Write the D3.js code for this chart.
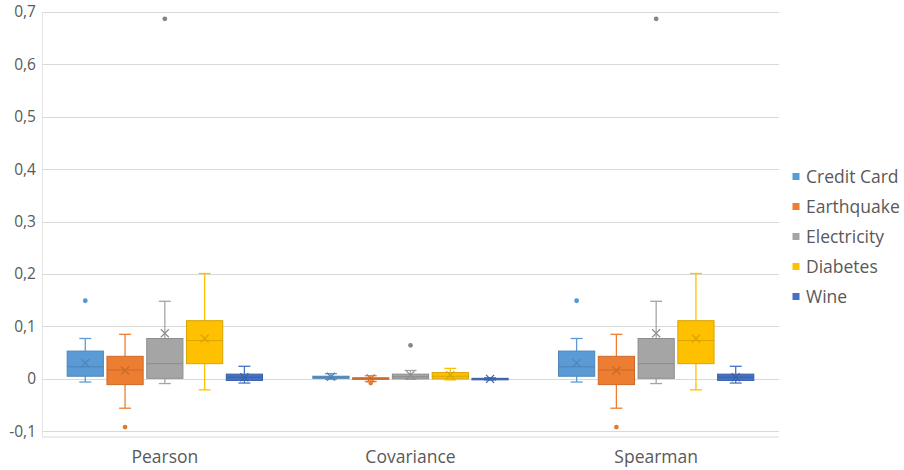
<!DOCTYPE html>
<html><head><meta charset="utf-8">
<script src="https://cdn.jsdelivr.net/npm/d3@7"></script>
<style>body{margin:0;background:#fff}svg{display:block}</style>
</head><body>
<svg id="c" width="904" height="470"></svg>
<script>
const categories = ["Pearson", "Covariance", "Spearman"];
const seriesNames = ["Credit Card", "Earthquake", "Electricity", "Diabetes", "Wine"];
const seriesColors = ["#5B9BD5", "#ED7D31", "#A5A5A5", "#FFC000", "#4472C4"];
const yTicks = [-0.1, 0, 0.1, 0.2, 0.3, 0.4, 0.5, 0.6, 0.7];
const yTickLabels = ["-0,1", "0", "0,1", "0,2", "0,3", "0,4", "0,5", "0,6", "0,7"];
// each row: [whiskerLow, q1, median, q3, whiskerHigh, mean] per category
const creditCard = [[-0.006, 0.005, 0.023, 0.053, 0.077, 0.030], [-0.001, 0.001, 0.003, 0.005, 0.010, 0.004], [-0.006, 0.005, 0.023, 0.053, 0.077, 0.030]];
const earthquake = [[-0.056, -0.011, 0.017, 0.043, 0.085, 0.016], [-0.005, -0.001, 0.001, 0.002, 0.006, 0.001], [-0.056, -0.011, 0.017, 0.043, 0.085, 0.016]];
const electricity = [[-0.009, 0.001, 0.029, 0.077, 0.148, 0.087], [-0.001, 0.000, 0.004, 0.009, 0.016, 0.007], [-0.009, 0.001, 0.029, 0.077, 0.148, 0.087]];
const diabetes = [[-0.021, 0.029, 0.073, 0.111, 0.201, 0.077], [-0.002, 0.000, 0.005, 0.012, 0.020, 0.007], [-0.021, 0.029, 0.073, 0.111, 0.201, 0.077]];
const wine = [[-0.008, -0.003, 0.003, 0.009, 0.024, 0.003], [-0.002, -0.001, 0.000, 0.001, 0.002, 0.000], [-0.008, -0.003, 0.003, 0.009, 0.024, 0.003]];
const creditCardOutliers = [[0.149], [], [0.149]];
const earthquakeOutliers = [[-0.092], [-0.008], [-0.092]];
const electricityOutliers = [[0.687], [0.064], [0.687]];
const diabetesOutliers = [[], [], []];
const wineOutliers = [[], [], []];

const stats = [creditCard, earthquake, electricity, diabetes, wine];
const outliers = [creditCardOutliers, earthquakeOutliers, electricityOutliers, diabetesOutliers, wineOutliers];

const svg = d3.select("#c");
const L = 42, R = 779, T = 12, B = 436.5;
const FONT = "'Open Sans', sans-serif";
const TXT = "#595959";

const y = d3.scaleLinear().domain([-0.11, 0.7]).range([B, T]);
const x0 = d3.scaleBand().domain(categories).range([L, R]).paddingInner(0.205).paddingOuter(0.1025);
const x1 = d3.scaleBand().domain(seriesNames).range([0, x0.bandwidth()]).paddingInner(0.09).paddingOuter(0);

// gridlines
svg.append("g").selectAll("line").data(yTicks).join("line")
  .attr("x1", L).attr("x2", R)
  .attr("y1", d => Math.round(y(d)) + 0.5).attr("y2", d => Math.round(y(d)) + 0.5)
  .attr("stroke", "#d9d9d9").attr("stroke-width", 1);
// plot frame (left + bottom)
svg.append("line").attr("x1", L + 0.5).attr("x2", L + 0.5).attr("y1", T).attr("y2", B).attr("stroke", "#e3e3e3");
svg.append("line").attr("x1", L).attr("x2", R).attr("y1", B + 0.5).attr("y2", B + 0.5).attr("stroke", "#d9d9d9");

// y labels
svg.append("g").selectAll("text").data(yTicks).join("text")
  .attr("x", 36).attr("y", d => y(d)).attr("dy", "0.35em")
  .attr("text-anchor", "end").attr("font-family", FONT).attr("font-size", 15.5).attr("fill", TXT)
  .text((d, i) => yTickLabels[i]);

// x labels
svg.append("g").selectAll("text").data(categories).join("text")
  .attr("x", d => x0(d) + x0.bandwidth() / 2).attr("y", 463)
  .attr("text-anchor", "middle").attr("font-family", FONT).attr("font-size", 17.5).attr("fill", TXT)
  .text(d => d);

// boxes
const bw = x1.bandwidth();
const capW = 12;
seriesNames.forEach((s, si) => {
  const col = seriesColors[si];
  const dark = d3.color(col).darker(0.45).formatHex();
  const g = svg.append("g");
  categories.forEach((c, ci) => {
    const [lo, q1, med, q3, hi, mean] = stats[si][ci];
    const cx = x0(c) + x1(s) + bw / 2;
    const bx = x0(c) + x1(s);
    // whiskers
    g.append("line").attr("x1", cx).attr("x2", cx).attr("y1", y(hi)).attr("y2", y(q3)).attr("stroke", col).attr("stroke-width", 1.3);
    g.append("line").attr("x1", cx).attr("x2", cx).attr("y1", y(q1)).attr("y2", y(lo)).attr("stroke", col).attr("stroke-width", 1.3);
    g.append("line").attr("x1", cx - capW / 2).attr("x2", cx + capW / 2).attr("y1", y(hi)).attr("y2", y(hi)).attr("stroke", col).attr("stroke-width", 1.3);
    g.append("line").attr("x1", cx - capW / 2).attr("x2", cx + capW / 2).attr("y1", y(lo)).attr("y2", y(lo)).attr("stroke", col).attr("stroke-width", 1.3);
    // box
    g.append("rect").attr("x", bx).attr("width", bw)
      .attr("y", y(q3)).attr("height", Math.max(1.5, y(q1) - y(q3)))
      .attr("fill", col).attr("stroke", dark).attr("stroke-width", 1);
    // median
    g.append("line").attr("x1", bx).attr("x2", bx + bw).attr("y1", y(med)).attr("y2", y(med)).attr("stroke", dark).attr("stroke-width", 1);
    // mean X
    const m = 4, my = y(mean);
    g.append("path").attr("d", `M${cx - m},${my - m}L${cx + m},${my + m}M${cx - m},${my + m}L${cx + m},${my - m}`)
      .attr("stroke", dark).attr("stroke-width", 1.2).attr("fill", "none");
    // outliers
    g.selectAll(null).data(outliers[si][ci]).join("circle")
      .attr("cx", cx).attr("cy", d => y(d)).attr("r", 2.4)
      .attr("fill", d3.color(col).darker(si === 2 ? 0.6 : 0.1).formatHex());
  });
});

// legend
const lg = svg.append("g");
seriesNames.forEach((s, i) => {
  const ly = 177 + i * 30;
  lg.append("rect").attr("x", 792.5).attr("y", ly - 4).attr("width", 7).attr("height", 7).attr("fill", seriesColors[i]);
  lg.append("text").attr("x", 806).attr("y", ly).attr("dy", "0.35em")
    .attr("font-family", FONT).attr("font-size", 17.5).attr("fill", TXT).text(s);
});
</script>
</body></html>
